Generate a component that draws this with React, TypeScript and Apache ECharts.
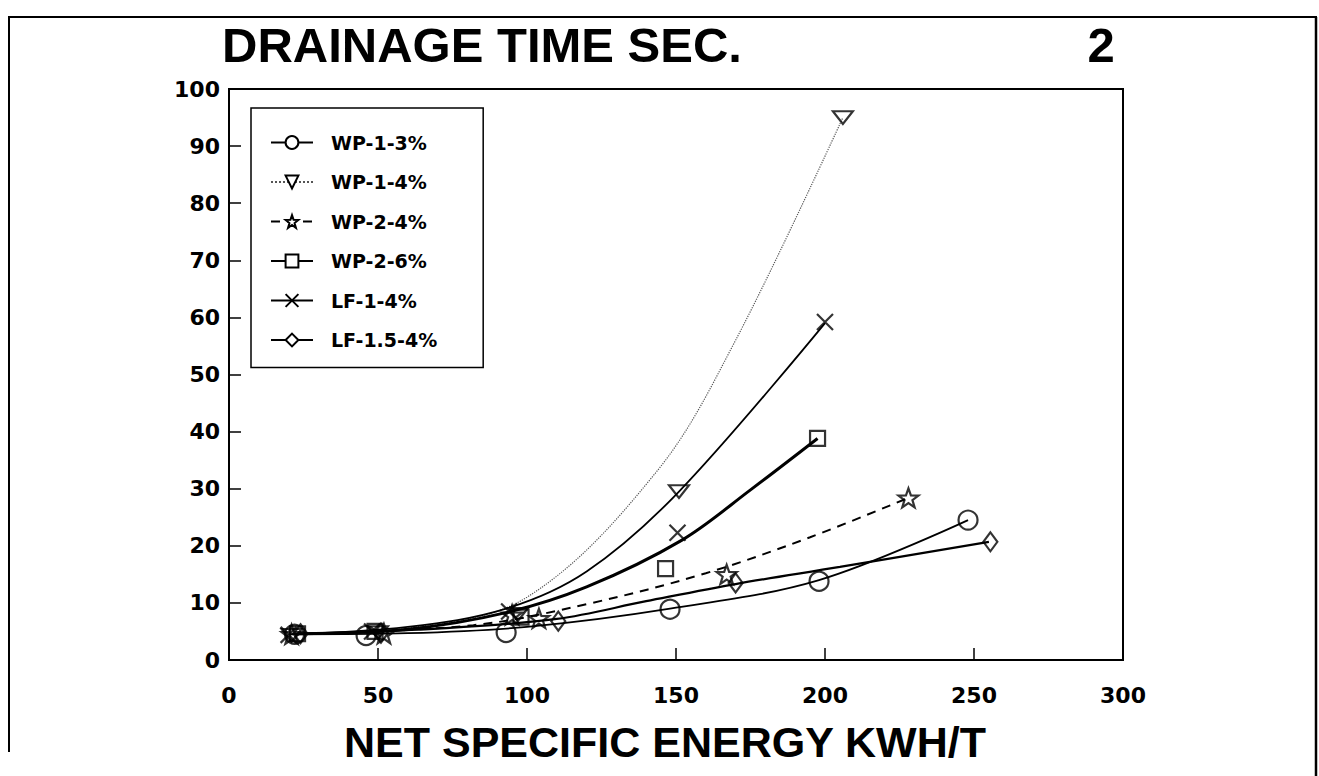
import React, { useEffect, useRef } from "react";
import * as echarts from "echarts";

const seriesNames = ["WP-1-3%", "WP-1-4%", "WP-2-4%", "WP-2-6%", "LF-1-4%", "LF-1.5-4%"];

// measured points (marker positions)
const wp13Points = [[22, 4.5], [46, 4.3], [93, 4.8], [148, 8.9], [198, 13.8], [248, 24.5]];
const wp14Points = [[21, 4.3], [50, 4.8], [97, 8.0], [151, 29.5], [206, 95]];
const wp24Points = [[21, 4.5], [52, 4.6], [95, 7.9], [104, 7.3], [167, 15.0], [228, 28.4]];
const wp26Points = [[23, 4.6], [49, 5.0], [98, 7.5], [146.5, 16.0], [197.5, 38.8]];
const lf14Points = [[20, 4.4], [48, 5.0], [94, 8.5], [150.5, 22.3], [200, 59.2]];
const lf154Points = [[24, 4.6], [51, 4.7], [110.5, 6.8], [170, 13.5], [255.5, 20.7]];

// fitted curves
const wp13Curve = [[22, 4.5], [60, 4.7], [100, 5.8], [148, 9.0], [198, 14.0], [248, 24.5]];
const wp14Curve = [[20, 4.5], [60, 5.6], [100, 11.0], [143.5, 33.0], [170, 56.0], [206, 95.0]];
const wp24Curve = [[21, 4.5], [82, 6.1], [121, 9.9], [160, 15.2], [195, 21.5], [228, 28.4]];
const wp26Curve = [[23, 4.6], [60, 5.4], [93, 8.3], [120, 12.8], [152, 21.0], [175, 29.8], [197.5, 38.8]];
const lf14Curve = [[20, 4.5], [60, 5.8], [93, 9.0], [120, 15.5], [151, 29.5], [200, 59.0]];
const lf154Curve = [[24, 4.6], [70, 5.5], [110, 7.2], [140, 10.3], [170, 13.3], [205, 16.3], [255, 20.7]];

const xTicks = [0, 50, 100, 150, 200, 250, 300];
const yTicks = [0, 10, 20, 30, 40, 50, 60, 70, 80, 90, 100];

const STAR = "path://M10 0L12.35 6.76L19.51 6.91L13.8 11.24L15.88 18.09L10 14L4.12 18.09L6.2 11.24L0.49 6.91L7.65 6.76Z";
const CROSS = "path://M0 0L10 10M10 0L0 10";
const TRI_DOWN = "path://M0 0L20 0L10 16Z";

export default function App() {
  const ref = useRef<HTMLDivElement>(null);
  useEffect(() => {
    if (!ref.current) return;
    const chart = echarts.init(ref.current, null, { renderer: "svg" });
    const markerStyle = { color: "#fff", borderColor: "#000", borderWidth: 2.2 };
    const defs = [
      { name: seriesNames[0], pts: wp13Points, curve: wp13Curve, symbol: "circle", size: 19, line: { color: "#000", width: 1.8, type: "solid" } },
      { name: seriesNames[1], pts: wp14Points, curve: wp14Curve, symbol: TRI_DOWN, size: [20, 16], line: { color: "#555", width: 1.2, type: "dotted" } },
      { name: seriesNames[2], pts: wp24Points, curve: wp24Curve, symbol: STAR, size: 20, line: { color: "#000", width: 2, type: [9, 7] } },
      { name: seriesNames[3], pts: wp26Points, curve: wp26Curve, symbol: "rect", size: 15, line: { color: "#000", width: 3, type: "solid" } },
      { name: seriesNames[4], pts: lf14Points, curve: lf14Curve, symbol: CROSS, size: 16, line: { color: "#000", width: 1.8, type: "solid" } },
      { name: seriesNames[5], pts: lf154Points, curve: lf154Curve, symbol: "diamond", size: [14, 19], line: { color: "#000", width: 2.2, type: "solid" } },
    ];
    const series: any[] = [];
    defs.forEach((d) => {
      const isCross = d.symbol === CROSS;
      series.push({
        type: "line",
        name: d.name,
        data: d.curve,
        smooth: 0.35,
        symbol: d.symbol,
        symbolSize: d.size,
        symbolKeepAspect: true,
        showSymbol: false,
        lineStyle: d.line,
        itemStyle: isCross ? { color: "transparent", borderColor: "#000", borderWidth: 2 } : markerStyle,
        z: 2,
      });
    });
    defs.forEach((d) => {
      const isCross = d.symbol === CROSS;
      series.push({
        type: "scatter",
        name: d.name,
        data: d.pts,
        symbol: d.symbol,
        symbolSize: d.size,
        symbolKeepAspect: true,
        itemStyle: isCross ? { color: "transparent", borderColor: "#000", borderWidth: 2.2 } : { ...markerStyle, color: "transparent" },
        z: 3,
      });
    });

    const tickFont = { fontFamily: "DejaVu Sans", fontWeight: "bold", fontSize: 22, color: "#000" };

    chart.setOption({
      animation: false,
      backgroundColor: "#fff",
      grid: { left: 229, right: 196, top: 89, bottom: 116, show: true, borderColor: "#000", borderWidth: 2, backgroundColor: "transparent" },
      xAxis: {
        type: "value",
        min: xTicks[0],
        max: xTicks[xTicks.length - 1],
        interval: 50,
        axisLine: { lineStyle: { color: "#000", width: 2 } },
        axisTick: { inside: true, length: 12, lineStyle: { color: "#000", width: 1.5 } },
        axisLabel: { ...tickFont, margin: 24 },
        splitLine: { show: false },
      },
      yAxis: {
        type: "value",
        min: yTicks[0],
        max: yTicks[yTicks.length - 1],
        interval: 10,
        axisLine: { show: true, lineStyle: { color: "#000", width: 2 } },
        axisTick: { show: true, inside: true, length: 12, lineStyle: { color: "#000", width: 1.5 } },
        axisLabel: { ...tickFont, margin: 9 },
        splitLine: { show: false },
      },
      legend: {
        orient: "vertical",
        left: 251,
        top: 108,
        padding: [25, 46, 18, 19],
        itemWidth: 42,
        itemHeight: 16,
        itemGap: 20.5,
        borderColor: "#000",
        borderWidth: 1.5,
        backgroundColor: "#fff",
        selectedMode: false,
        textStyle: { fontFamily: "DejaVu Sans", fontWeight: "bold", fontSize: 19, color: "#000", padding: [0, 0, 0, 13] },
        data: seriesNames,
      },
      graphic: [
        { type: "line", shape: { x1: 8, y1: 17, x2: 1317, y2: 17 }, style: { stroke: "#000", lineWidth: 2 } },
        { type: "line", shape: { x1: 9, y1: 17, x2: 9, y2: 752 }, style: { stroke: "#000", lineWidth: 2 } },
        { type: "line", shape: { x1: 1316, y1: 17, x2: 1316, y2: 776 }, style: { stroke: "#000", lineWidth: 2.5 } },
        { type: "text", x: 222, y: 45, style: { text: "DRAINAGE TIME SEC.", fontFamily: "Liberation Sans, Arial, sans-serif", fontWeight: "bold", fontSize: 49, fill: "#000", textVerticalAlign: "middle" } },
        { type: "text", x: 1101, y: 45, style: { text: "2", fontFamily: "Liberation Sans, Arial, sans-serif", fontWeight: "bold", fontSize: 49, fill: "#000", textAlign: "center", textVerticalAlign: "middle" } },
        { type: "text", x: 665, y: 742, style: { text: "NET SPECIFIC ENERGY KWH/T", fontFamily: "Liberation Sans, Arial, sans-serif", fontWeight: "bold", fontSize: 43, fill: "#000", textAlign: "center", textVerticalAlign: "middle" } },
      ],
      series,
    });
    return () => chart.dispose();
  }, []);
  return <div ref={ref} style={{ width: 1319, height: 776, position: "absolute", left: 0, top: 0 }} />;
}
